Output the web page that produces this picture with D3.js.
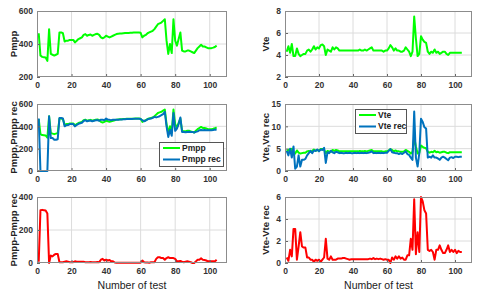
<!DOCTYPE html>
<html>
<head>
<meta charset="utf-8">
<script src="https://cdn.jsdelivr.net/npm/d3@7"></script>
<style>
body{margin:0;background:#fff;}
svg text{font-family:Arial,"Liberation Sans",sans-serif;}
</style>
</head>
<body>
<svg id="chart" width="480" height="296"></svg>
<script>
// test numbers 1..104
let tests = d3.range(1,105);

let pmpp = [465,330,322,320,318,298,490,340,335,330,335,340,470,470,465,415,420,420,425,425,
  425,410,420,430,435,440,455,460,450,455,458,450,455,460,462,455,440,435,440,450,
  445,440,445,450,455,460,462,463,464,465,466,467,467,468,468,469,470,470,470,468,
  440,450,455,465,470,475,480,490,505,520,525,530,540,550,420,340,400,345,550,420,
  390,430,470,360,355,355,360,360,355,350,345,360,375,385,395,385,385,380,375,375,
  375,378,382,390];
let pmppRec = [470,0,0,0,0,0,490,295,295,280,280,285,475,475,470,400,410,412,420,420,
  420,400,412,422,428,432,448,455,445,450,452,445,450,455,456,450,460,460,455,470,
  460,458,455,460,458,458,460,461,462,463,464,465,465,466,466,467,468,468,468,466,
  455,445,452,462,468,470,476,485,480,485,490,500,510,530,400,305,370,315,520,360,
  380,420,480,350,350,347,350,352,350,350,345,350,355,365,367,365,367,365,365,365,
  365,368,372,370];
let pmppDiff = [8,320,322,320,318,300,0,45,40,50,55,55,5,5,5,8,10,8,5,5,
  5,10,8,8,7,8,7,5,5,5,6,5,5,5,6,5,20,25,15,20,
  15,18,10,10,3,2,2,2,2,2,2,2,2,2,2,2,2,2,2,2,
  15,5,3,3,2,5,4,5,25,35,35,30,30,20,30,35,30,30,30,25,
  10,10,12,8,5,8,10,8,5,0,0,10,20,20,28,20,18,15,10,10,
  10,10,10,20];

let vte = [4.3,4.8,4.2,5.0,3.9,3.9,4.6,4.1,3.9,4.0,4.1,4.1,4.4,4.5,4.3,4.5,4.8,4.5,4.7,4.6,
  4.9,4.95,4.8,4.0,4.5,4.4,4.3,4.7,4.5,4.7,4.6,4.4,4.4,4.4,4.4,4.4,4.4,4.4,4.4,4.4,
  4.4,4.4,4.4,4.5,4.4,4.4,4.5,4.4,4.5,4.6,4.7,4.4,4.4,4.4,4.4,4.4,4.4,4.3,4.4,4.4,
  4.6,4.9,4.7,4.4,4.6,4.4,4.4,4.3,4.3,4.4,4.7,4.5,4.3,3.9,4.3,7.5,5.5,3.9,4.1,5.7,
  5.4,5.2,5.1,4.3,4.1,4.3,4.2,4.5,4.2,4.3,4.1,4.2,4.3,4.3,4.1,4.0,4.2,4.2,4.2,4.2,
  4.2,4.2,4.2,4.2];
let vteRec = [4.5,3.5,5.0,3.0,5.5,0.5,1.0,3.5,1.0,2.5,2.5,2.7,3.5,4.0,4.5,4.0,4.6,4.5,4.8,4.4,
  4.8,4.7,5.2,1.8,4.2,4.0,4.5,4.2,4.0,4.3,4.2,4.0,4.1,4.0,4.0,4.1,4.0,4.1,4.0,4.0,
  4.1,4.0,4.1,4.0,4.1,4.0,4.1,4.0,4.1,4.2,4.4,4.0,4.1,4.0,4.1,4.0,4.1,4.0,4.1,4.1,
  4.5,4.9,4.2,4.1,4.0,4.0,3.8,4.0,3.8,4.1,4.4,3.8,3.6,3.0,2.5,13.3,3.0,1.0,4.0,11.7,
  11.0,9.8,9.5,3.0,3.2,3.0,3.5,3.0,3.0,2.8,2.5,3.0,3.2,3.0,2.7,2.4,3.0,3.1,2.9,3.2,
  3.2,3.1,3.2,3.2];
let vteDiff = [0.5,0.2,1.2,0.6,3.1,3.1,0.3,1.5,2.8,1.5,1.4,1.4,0.5,0.5,0.3,0.3,0.1,0.3,0.2,0.3,
  0.1,0.3,0.5,2.2,0.4,0.3,0.6,0.3,0.3,0.3,0.4,0.4,0.4,0.45,0.45,0.4,0.35,0.3,0.35,0.35,
  0.35,0.35,0.35,0.35,0.35,0.35,0.35,0.35,0.35,0.4,0.35,0.45,0.35,0.4,0.35,0.4,0.35,0.3,0.35,0.3,
  0.3,0.0,0.5,0.3,0.6,0.4,0.6,0.4,0.5,0.3,0.3,0.7,0.7,2.2,1.2,5.8,0.8,2.8,1.0,6.0,
  5.6,4.8,4.5,1.2,1.1,1.2,1.0,0.3,1.2,1.2,1.6,1.2,0.9,0.9,1.2,1.6,1.0,1.2,1.0,1.2,
  0.9,1.1,1.0,1.0];

let xTicks = [0,20,40,60,80,100];

let panels = [
  {col:0,row:0,label:"Pmpp",domain:[200,600],ticks:[200,400,600],series:[{v:pmpp,c:"#00ff00"}]},
  {col:1,row:0,label:"Vte",domain:[2,8],ticks:[2,4,6,8],series:[{v:vte,c:"#00ff00"}]},
  {col:0,row:1,label:"Pmpp,Pmpp rec",domain:[0,600],ticks:[0,200,400,600],
    series:[{v:pmpp,c:"#00ff00",name:"Pmpp"},{v:pmppRec,c:"#0072bd",name:"Pmpp rec"}],
    legend:{x:159,y:142,w:64,h:24}},
  {col:1,row:1,label:"Vte,Vte rec",domain:[0,15],ticks:[0,5,10,15],
    series:[{v:vte,c:"#00ff00",name:"Vte"},{v:vteRec,c:"#0072bd",name:"Vte rec"}],
    legend:{x:355,y:109,w:51,h:24}},
  {col:0,row:2,label:"Pmpp-Pmpp rec",domain:[0,400],ticks:[0,200,400],series:[{v:pmppDiff,c:"#ff0000"}],xlabel:true},
  {col:1,row:2,label:"Vte-Vte rec",domain:[0,6],ticks:[0,2,4,6],series:[{v:vteDiff,c:"#ff0000"}],xlabel:true}
];

let colX = [[37,227],[285,472]];
let rowY = [[11,77],[104,171],[197,263]];

let svg = d3.select("#chart");

panels.forEach(p=>{
  let [x0,x1] = colX[p.col], [y0,y1] = rowY[p.row];
  let x = d3.scaleLinear().domain([0,110]).range([x0,x1]);
  let y = d3.scaleLinear().domain(p.domain).range([y1,y0]);
  let g = svg.append("g");

  g.append("rect").attr("x",x0).attr("y",y0).attr("width",x1-x0).attr("height",y1-y0).attr("fill","#fff");
  // grid
  g.selectAll(".gx").data(xTicks.filter(d=>d>0)).enter().append("line")
    .attr("x1",d=>x(d)).attr("x2",d=>x(d)).attr("y1",y0).attr("y2",y1)
    .attr("stroke","#dcdcdc").attr("stroke-width",1);
  g.selectAll(".gy").data(p.ticks.slice(1,-1)).enter().append("line")
    .attr("y1",d=>y(d)).attr("y2",d=>y(d)).attr("x1",x0).attr("x2",x1)
    .attr("stroke","#dcdcdc").attr("stroke-width",1);

  // lines
  p.series.forEach(s=>{
    let line = d3.line().x((d,i)=>x(tests[i])).y(d=>y(d));
    g.append("path").datum(s.v).attr("d",line).attr("fill","none")
      .attr("stroke",s.c).attr("stroke-width",2).attr("stroke-linejoin","round");
  });

  // axes
  let ax = g.append("g").attr("transform",`translate(0,${y1})`)
    .call(d3.axisBottom(x).tickValues(xTicks).tickFormat(d3.format("d")).tickSize(-3).tickPadding(5));
  let ay = g.append("g").attr("transform",`translate(${x0},0)`)
    .call(d3.axisLeft(y).tickValues(p.ticks).tickFormat(d3.format("d")).tickSize(-3).tickPadding(4));
  [ax,ay].forEach(a=>{
    a.select(".domain").remove();
    a.selectAll("line").attr("stroke","#666");
    a.selectAll("text").attr("fill","#333").style("font-size","8.5px").style("font-weight","bold");
  });
  g.append("rect").attr("x",x0+0.5).attr("y",y0+0.5).attr("width",x1-x0-1).attr("height",y1-y0-1)
    .attr("fill","none").attr("stroke","#8c8c8c").attr("stroke-width",1);

  // y label
  let lx = p.col===0 ? 14 : 266;
  g.append("text").attr("transform",`translate(${lx},${(y0+y1)/2}) rotate(-90)`)
    .attr("text-anchor","middle").attr("dy","0.35em").attr("fill","#222")
    .style("font-size","9.5px").style("font-weight","bold").text(p.label);

  if(p.xlabel){
    g.append("text").attr("x",(x0+x1)/2).attr("y",289).attr("text-anchor","middle")
      .attr("fill","#222").style("font-size","10.5px").text("Number of test");
  }

  if(p.legend){
    let L = p.legend;
    let lg = g.append("g");
    lg.append("rect").attr("x",L.x+0.5).attr("y",L.y+0.5).attr("width",L.w).attr("height",L.h)
      .attr("fill","#fff").attr("stroke","#555").attr("stroke-width",1);
    p.series.forEach((s,i)=>{
      let yy = L.y+6+i*11.5;
      lg.append("line").attr("x1",L.x+4).attr("x2",L.x+21).attr("y1",yy).attr("y2",yy)
        .attr("stroke",s.c).attr("stroke-width",2);
      lg.append("text").attr("x",L.x+23).attr("y",yy).attr("dy","0.35em").attr("fill","#222")
        .style("font-size","8.5px").style("font-weight","bold").text(s.name);
    });
  }
});
</script>
</body>
</html>
